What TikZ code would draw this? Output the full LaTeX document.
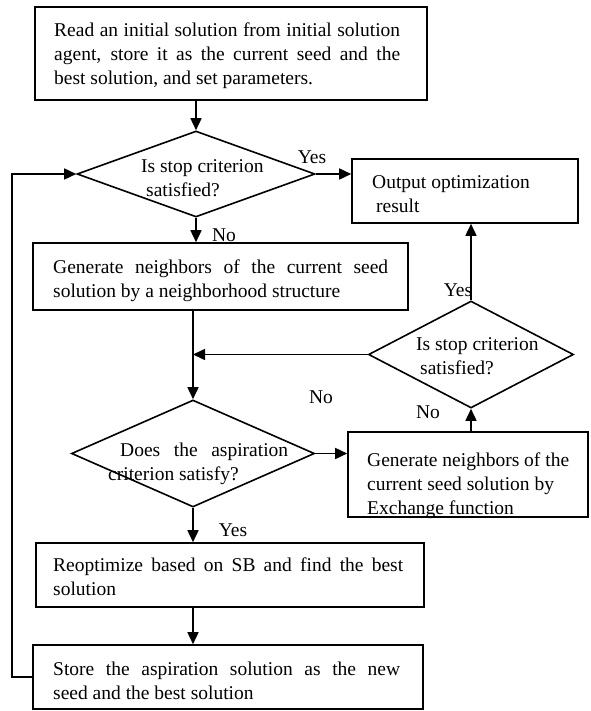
\documentclass[tikz,border=0pt]{standalone}
\usepackage{fontspec}
\setmainfont{Liberation Serif}
\usetikzlibrary{shapes.geometric,arrows.meta}
\newcommand{\jl}[2]{\makebox[#1][s]{#2}\\}
\begin{document}
\begin{tikzpicture}[x=1pt,y=-1pt,
  every node/.style={font=\fontsize{19.5}{24}\selectfont},
  boxn/.style={draw,line width=1.6pt,rectangle,inner sep=0pt},
  dia/.style={draw,line width=1.6pt,diamond,inner sep=0pt},
  txt/.style={inner sep=0pt,align=left,anchor=west},
  lbl/.style={inner sep=0pt},
  arr/.style={line width=1.6pt,-{Triangle[length=12pt,width=11pt]}}]
\useasboundingbox (0,0) rectangle (590,711);

% shapes
\node[boxn,minimum width=392pt,minimum height=93pt] (b1) at (231,53.5) {};
\node[dia,minimum width=238pt,minimum height=86pt] (d1) at (196,174) {};
\node[boxn,minimum width=226pt,minimum height=64pt] (out) at (465,191) {};
\node[boxn,minimum width=375pt,minimum height=67pt] (b2) at (220.5,276.5) {};
\node[dia,minimum width=205pt,minimum height=107pt] (d3) at (471,354.5) {};
\node[dia,minimum width=243pt,minimum height=107pt] (d2) at (193,453.5) {};
\node[boxn,minimum width=240pt,minimum height=85pt] (g3) at (468,474.5) {};
\node[boxn,minimum width=388pt,minimum height=64pt] (b4) at (230,575) {};
\node[boxn,minimum width=390pt,minimum height=64pt] (b5) at (228,677) {};

% texts
\node[txt] (t1) at (54,56) {\jl{346pt}{Read an initial solution from initial solution}\jl{346pt}{agent, store it as the current seed and the}best solution, and set parameters.};
\node[txt] (t2) at (141,178) {Is stop criterion\\\hspace*{5pt}satisfied?};
\node[txt] (t3) at (372,194) {Output optimization\\\hspace*{4pt}result};
\node[txt] (t4) at (53,280.5) {\jl{335pt}{Generate neighbors of the current seed}solution by a neighborhood structure};
\node[txt] (t5) at (416,356) {Is stop criterion\\\hspace*{4pt}satisfied?};
\node[txt] (t6) at (108,464) {\hspace*{12pt}\makebox[168pt][s]{Does the aspiration}\\criterion satisfy?};
\node[txt] (t7) at (367,486) {Generate neighbors of the\\current seed solution by\\Exchange function};
\node[txt] (t8) at (53,577) {\jl{350pt}{Reoptimize based on SB and find the best}solution};
\node[txt] (t9) at (53,681) {\jl{347pt}{Store the aspiration solution as the new}seed and the best solution};

% labels
\node[lbl] (yes1) at (312,157) {Yes};
\node[lbl] (no1) at (224,235) {No};
\node[lbl] (yes2) at (458,290) {Yes};
\node[lbl] (no2) at (321,397) {No};
\node[lbl] (no3) at (428,412) {No};
\node[lbl] (yes3) at (233,530) {Yes};

% connectors
\draw[arr] (d1.north |- b1.south) -- (d1.north);
\draw[arr] (d1.east) -- (out.west |- d1.east);
\draw[arr] (d1.south) -- (d1.south |- b2.north);
\draw[arr] (d2.north |- b2.south) -- (d2.north);
\coordinate (m) at (d2.north |- d3.west);
\draw[arr] (d3.west) -- (m);
\draw[arr] (d3.north) -- (d3.north |- out.south);
\draw[arr] (d2.east) -- (g3.west |- d2.east);
\draw[arr] (d3.south |- g3.north) -- (d3.south);
\draw[arr] (d2.south) -- (d2.south |- b4.north);
\draw[arr] (d2.south |- b4.south) -- (d2.south |- b5.north);
\coordinate (fb) at (12,0);
\draw[arr] (b5.west) -| (fb |- d1.west) -- (d1.west);
\end{tikzpicture}
\end{document}
